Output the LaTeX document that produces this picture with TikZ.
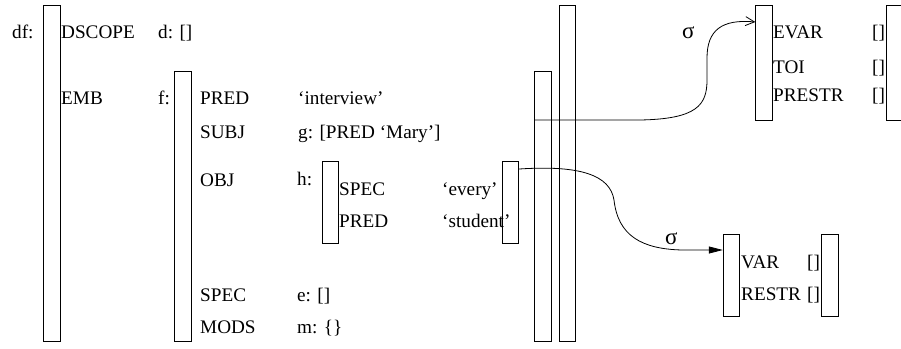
\documentclass[tikz,border=0pt]{standalone}
\usepackage{fontspec}
\setmainfont{Liberation Serif}
\usetikzlibrary{arrows.meta}
\begin{document}
\begin{tikzpicture}[x=1pt,y=-1pt,
  brk/.style={draw, line width=0.9pt, inner sep=0pt, minimum width=16.5pt},
  lbl/.style={anchor=base west, inner sep=0pt, font=\fontsize{19.2}{23}\selectfont},
  sig/.style={anchor=base west, inner sep=0pt, font=\fontsize{23}{26}\selectfont},
  conn/.style={line width=0.8pt}]
\useasboundingbox (0,0) rectangle (901,348);
% brackets
\node[brk, minimum height=336pt] (dfL) at (52,173) {};
\node[brk, minimum height=270pt] (fL) at (183,206) {};
\node[brk, minimum height=82pt] (hL) at (330.5,202) {};
\node[brk, minimum height=82pt] (hR) at (510.5,202) {};
\node[brk, minimum height=270pt] (fR) at (543,206) {};
\node[brk, minimum height=336pt] (dfR) at (567.5,173) {};
\node[brk, minimum height=115pt] (sL) at (764,62.5) {};
\node[brk, minimum height=115pt] (sR) at (895,62.5) {};
\node[brk, minimum height=82pt] (vL) at (731.5,275) {};
\node[brk, minimum height=82pt] (vR) at (830,275) {};
% labels outer
\node[lbl] (tdf) at (12,38) {df:};
\node[lbl] (tdscope) at (61,38) {DSCOPE};
\node[lbl] (td) at (158,38) {d: []};
\node[lbl] (temb) at (61,104) {EMB};
\node[lbl] (tf) at (158,104) {f:};
\node[lbl] (tpred) at (200,104) {PRED};
\node[lbl] (tint) at (298,104) {`interview'};
\node[lbl] (tsubj) at (200,138) {SUBJ};
\node[lbl] (tg) at (298,138) {g: [PRED `Mary']};
\node[lbl] (tobj) at (200,186) {OBJ};
\node[lbl] (th) at (297,185) {h:};
\node[lbl] (tspec2) at (339,195) {SPEC};
\node[lbl] (tevery) at (442,195) {`every'};
\node[lbl] (tpred2) at (339,227) {PRED};
\node[lbl] (tstudent) at (442,227) {`student'};
\node[lbl] (tspec) at (200,301) {SPEC};
\node[lbl] (te) at (297,301) {e: []};
\node[lbl] (tmods) at (200,333) {MODS};
\node[lbl] (tm) at (297,333) {m: \{\}};
% semantic structures
\node[lbl] (tevar) at (773,38) {EVAR};
\node[lbl] (tevarv) at (872,38) {[]};
\node[lbl] (ttoi) at (773,73) {TOI};
\node[lbl] (ttoiv) at (872,73) {[]};
\node[lbl] (tprestr) at (773,101) {PRESTR};
\node[lbl] (tprestrv) at (872,101) {[]};
\node[lbl] (tvar) at (741,268) {VAR};
\node[lbl] (tvarv) at (807,268) {[]};
\node[lbl] (trestr) at (741,300) {RESTR};
\node[lbl] (trestrv) at (807,300) {[]};
\node[sig] (sig1) at (682,38) {σ};
\node[sig] (sig2) at (665,244) {σ};
% connectors
\coordinate (u0) at (fR.west |- 0,120);
\coordinate (u1) at (sL.west |- 0,22);
\draw[conn, -{Straight Barb[length=9pt,width=9pt]}] (u0) -- (640,120)
  .. controls (697,119) and (707,105) .. (707,80) -- (707,58)
  .. controls (707,30) and (722,19) .. (u1);
\coordinate (l0) at (hR.east |- 0,169);
\coordinate (l1) at (vL.west |- 0,250);
\draw[conn, -{Triangle[length=14pt,width=7pt]}] (l0)
  .. controls (580,165) and (610,175) .. (614,200)
  .. controls (618,236) and (642,249) .. (682,250) -- (l1);
\end{tikzpicture}
\end{document}
